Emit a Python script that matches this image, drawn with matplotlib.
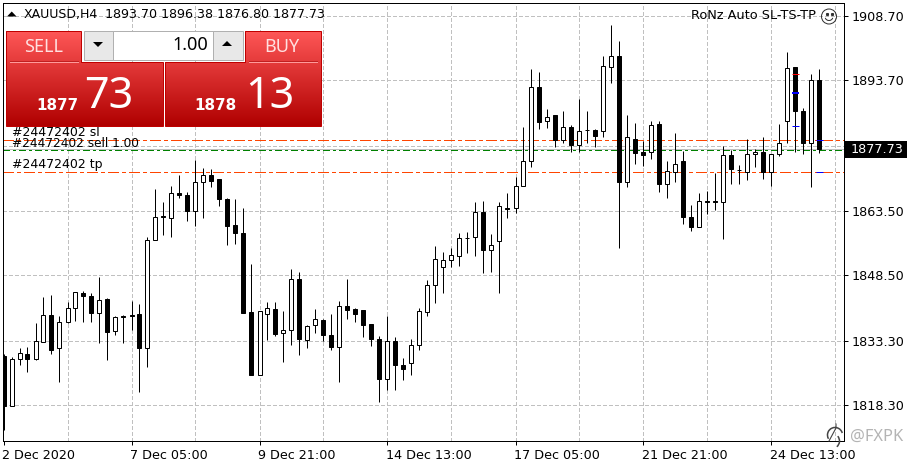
import numpy as np
import matplotlib
matplotlib.use("Agg")
import matplotlib.pyplot as plt
import matplotlib.transforms as mtrans
from matplotlib.patches import Rectangle, Polygon, Circle, Arc

# ---- data (prices) ----
opens = [1829.6,1818.2,1829.0,1830.2,1829.1,1832.9,1839.2,1831.5,1837.5,1840.8,
         1844.3,1843.7,1839.6,1843.0,1835.4,1839.1,1839.2,1839.5,1831.5,1856.6,
         1862.3,1861.7,1867.6,1867.1,1863.3,1870.1,1871.7,1870.8,1866.2,1860.1,
         1858.3,1839.9,1825.2,1839.5,1840.6,1835.0,1835.7,1847.6,1833.4,1836.9,
         1838.1,1834.6,1831.9,1841.3,1840.6,1840.4,1837.1,1833.6,1824.3,1833.2,
         1827.6,1828.1,1832.2,1839.9,1846.2,1850.4,1852.0,1852.9,1857.1,1857.3,
         1863.1,1854.3,1856.4,1864.1,1864.1,1869.1,1874.9,1892.3,1884.2,1885.6,
         1879.9,1882.9,1878.8,1882.1,1882.1,1882.0,1896.9,1899.5,1870.2,1880.2,
         1877.1,1877.0,1883.5,1869.7,1872.5,1875.0,1862.1,1859.7,1865.7,1865.7,
         1865.5,1876.5,1873.0,1872.5,1876.7,1877.0,1872.5,1876.7,1884.4,1896.8,
         1886.7,1879.1,1893.70]
highs = [1830.2,1829.5,1831.5,1831.8,1837.4,1843.5,1843.9,1839.1,1842.2,1844.6,
         1844.9,1844.3,1848.1,1843.2,1839.0,1839.2,1842.5,1841.8,1857.4,1868.6,
         1865.5,1869.3,1871.8,1867.8,1875.3,1873.4,1873.1,1870.8,1866.4,1866.2,
         1864.1,1851.1,1840.1,1842.2,1842.2,1840.2,1850.0,1849.2,1836.9,1840.7,
         1838.4,1839.5,1842.5,1847.7,1840.8,1840.4,1837.1,1834.3,1839.1,1834.1,
         1829.2,1833.6,1840.8,1847.3,1855.2,1853.9,1854.8,1858.3,1858.5,1865.5,
         1865.7,1858.0,1865.5,1867.6,1871.3,1883.0,1896.3,1895.6,1887.0,1885.8,
         1886.7,1883.3,1889.5,1886.5,1882.4,1899.3,1906.7,1902.8,1885.6,1883.9,
         1879.7,1884.2,1884.2,1875.0,1881.5,1877.3,1864.7,1867.5,1868.1,1872.3,
         1878.4,1877.5,1874.0,1880.0,1877.7,1880.5,1876.7,1883.6,1900.3,1896.8,
         1887.4,1895.2,1896.38]
lows = [1812.6,1818.2,1827.5,1826.0,1828.8,1832.9,1830.2,1823.6,1837.4,1837.9,
        1837.7,1837.7,1832.8,1828.8,1834.6,1832.8,1835.8,1821.4,1827.2,1856.6,
        1857.9,1857.4,1866.5,1861.1,1859.9,1861.8,1869.0,1864.6,1855.6,1855.8,
        1839.6,1825.2,1825.2,1833.5,1834.4,1828.4,1832.3,1830.0,1831.6,1835.1,
        1833.3,1831.2,1823.7,1838.4,1837.7,1834.2,1832.1,1818.9,1821.9,1821.9,
        1824.2,1825.4,1831.2,1839.1,1842.1,1844.4,1850.4,1850.7,1853.7,1853.0,
        1849.0,1849.3,1844.4,1861.8,1862.9,1869.1,1873.6,1882.5,1882.6,1878.3,
        1879.1,1877.1,1877.1,1879.2,1878.3,1880.5,1893.2,1854.8,1869.0,1874.3,
        1873.8,1875.5,1867.8,1866.4,1870.2,1860.3,1858.8,1859.7,1862.6,1863.6,
        1856.9,1869.6,1869.6,1870.5,1873.6,1870.8,1869.2,1876.1,1879.1,1877.1,
        1876.7,1868.9,1876.80]
closes = [1818.2,1829.0,1830.4,1829.1,1833.2,1839.2,1831.2,1837.6,1840.8,1844.6,
          1843.6,1839.6,1842.7,1835.2,1838.8,1838.8,1838.9,1831.5,1856.6,1862.0,
          1861.9,1867.6,1867.0,1863.3,1870.1,1871.7,1870.3,1866.1,1860.0,1858.2,
          1839.6,1825.2,1840.1,1840.8,1834.7,1835.7,1847.6,1833.6,1836.7,1838.3,
          1834.5,1831.9,1841.3,1840.5,1839.4,1837.0,1833.6,1824.3,1833.2,1827.5,
          1826.6,1832.2,1840.1,1846.2,1852.2,1851.9,1853.1,1857.0,1857.1,1863.1,
          1854.3,1855.4,1864.5,1863.8,1869.2,1874.9,1892.3,1884.1,1885.3,1879.8,
          1882.8,1878.7,1881.9,1882.1,1880.9,1897.0,1899.5,1870.2,1880.5,1876.9,
          1876.4,1883.3,1869.7,1872.6,1874.2,1862.0,1859.7,1865.6,1865.4,1865.4,
          1876.5,1873.2,1873.0,1876.7,1877.2,1872.4,1876.7,1879.1,1896.7,1886.7,
          1879.2,1893.7,1877.73]

price_ticks = [1908.70, 1893.70, 1878.60, 1863.50, 1848.50, 1833.30, 1818.30]
price_labels = ["1908.70", "1893.70", "", "1863.50", "1848.50", "1833.30", "1818.30"]
time_pos = [0, 16, 32, 48, 64, 80, 96]
time_labels = ["2 Dec 2020", "7 Dec 05:00", "9 Dec 21:00", "14 Dec 13:00",
               "17 Dec 05:00", "21 Dec 21:00", "24 Dec 13:00"]
grid_pos = list(range(8, 105, 8))

sl_level, tp_level, entry_level, bid_level = 1879.8, 1872.55, 1877.45, 1877.75
order_bar = [99, 99, 99, 102, 102]
order_price = [1895.1, 1890.8, 1883.2, 1879.8, 1872.5]
order_color = ["#ff0000", "#0000ff", "#0000ff", "#0000ff", "#0000ff"]
order_lw = [1, 2, 1, 1, 1]

plt.rcParams["font.family"] = "DejaVu Sans"
TXT = 9.2
PX = 0.72
W, H = 915, 467
fig = plt.figure(figsize=(W / 100, H / 100), dpi=100, facecolor="white")

# ---- chart axes ----
L, R, T, B = 2.5, 843.5, 2.5, 440.5
ax = fig.add_axes([L / W, 1 - B / H, (R - L) / W, (B - T) / H])
bar_px = 8.0
ax.set_xlim((L - 3.5) / bar_px, (R - 3.5) / bar_px)
scale = 30.2 / 130
ax.set_ylim(1893.7 - (B - 80.5) * scale, 1893.7 - (T - 80.5) * scale)
for s in ax.spines.values():
    s.set_linewidth(PX)
    s.set_color("black")
    s.set_zorder(6)

grid_style = dict(color="#c0c0c0", lw=PX, dashes=(3.5, 2.5), zorder=0, antialiased=False)
for p in price_ticks:
    ax.axhline(p, **grid_style)
for g in grid_pos:
    ax.axvline(g, **grid_style)

ax.yaxis.tick_right()
ax.set_yticks(price_ticks)
ax.set_yticklabels(price_labels, fontsize=TXT)
ax.tick_params(axis="y", length=3, width=PX, pad=2.5, color="black")
ax.set_xticks(time_pos)
ax.set_xticklabels(time_labels, fontsize=TXT, ha="left")
ax.tick_params(axis="x", length=3, width=PX, pad=3, color="black")
off = mtrans.ScaledTranslation(-1 / 100, 0, fig.dpi_scale_trans)
for t in ax.get_xticklabels():
    t.set_transform(t.get_transform() + off)

# price / order lines
def level(y, color, pattern, z=1):
    ax.axhline(y, color=color, lw=1.1 * PX, dashes=pattern, zorder=z, antialiased=False)
level(sl_level, "#ff4500", (9.5, 3.5, 3.0, 3.5))
level(tp_level, "#ff4500", (9.5, 3.5, 3.0, 3.5))
level(entry_level, "#008000", (6, 3.0, 2, 3.0))
ax.axhline(bid_level, color="#c0c0c0", lw=PX, zorder=1, antialiased=False)

# candles
x = np.arange(len(opens))
o, h, l, c = map(np.array, (opens, highs, lows, closes))
up = c >= o
ax.vlines(x, l, h, color="black", lw=PX, zorder=3)
ax.bar(x[up], (c - o)[up], bottom=o[up], width=0.5, facecolor="white",
       edgecolor="black", lw=PX, zorder=4)
ax.bar(x[~up], (c - o)[~up], bottom=o[~up], width=0.5, facecolor="black",
       edgecolor="black", lw=PX, zorder=4)
for b, p, col, lw in zip(order_bar, order_price, order_color, order_lw):
    ax.hlines(p, b - 0.42, b + 0.42, color=col, lw=lw * PX, zorder=5)

# ---- overlay in pixel coordinates (trading panel, labels) ----
ov = fig.add_axes([0, 0, 1, 1], zorder=10)
ov.patch.set_alpha(0)
ov.axis("off")

def label(xp, yp, s, size=TXT, color="black", ha="left", va="center", **kw):
    ov.text(xp, yp, s, fontsize=size, color=color, ha=ha, va=va, **kw)

label(24, 14.5, "XAUUSD,H4", size=9.0)
label(105, 14.5, "1893.70 1896.38 1876.80 1877.73", size=9.1)
ov.add_patch(Polygon([[7, 16.5], [16.5, 16.5], [11.75, 11.5]], fc="black", ec="none"))
label(816, 15.5, "RoNz Auto SL-TS-TP", size=9.3, ha="right")
ov.add_patch(Circle((829, 16.5), 7.5, fc="none", ec="#303030", lw=PX))
ov.add_patch(Arc((829, 16.5), 8, 8, theta1=20, theta2=160, ec="#303030", lw=PX))
ov.plot([826.5, 831.5], [14, 14], ls="none", marker="s", ms=1.2, color="#303030")

label(12, 132.5, "#24472402 sl", size=9.0)
label(12, 143.5, "#24472402 sell 1.00", size=8.75)
label(12, 164.5, "#24472402 tp", size=9.0)

# price box
ov.add_patch(Rectangle((845, 141), 62, 17, fc="black", ec="none"))
label(851, 149.5, "1877.73", color="white")

# gradient panels
grad = np.array([[1.00, 0.345, 0.345], [0.69, 0.0, 0.0]])
t = np.linspace(0, 1, 96)[:, None]
img = (grad[0] * (1 - t) + grad[1] * t)[:, None, :]
def panel(poly, z=2):
    patch = Polygon(poly, fc="none", ec="none", transform=ov.transData)
    ov.add_patch(patch)
    im = ov.imshow(img, extent=(0, 330, 126, 30), aspect="auto", zorder=z, interpolation="bilinear")
    im.set_clip_path(patch)
    ov.add_patch(Polygon(poly, fc="none", ec="#c00000", lw=PX, zorder=z + 1))
panel([[6, 30.5], [81, 30.5], [81, 62], [162.5, 62], [162.5, 126], [6, 126]])
panel([[245, 30.5], [320.5, 30.5], [320.5, 126], [165, 126], [165, 62], [245, 62]])
ov.set_xlim(0, W)
ov.set_ylim(H, 0)
for a, b_ in [(10, 78), (249, 317)]:
    ov.plot([a, b_], [61.5, 61.5], color="#ff9a9a", lw=PX, zorder=4)
    ov.plot([a, b_], [60.5, 60.5], color="#c02020", lw=PX, zorder=4)

for xa, wd, fc in [(84, 29, "#e8e8e8"), (113, 100, "white"), (213, 29.5, "#e8e8e8")]:
    ov.add_patch(Rectangle((xa, 30.5), wd, 29.5, fc=fc, ec="#b0b0b0", lw=PX, zorder=3))
ov.add_patch(Polygon([[93, 42], [103, 42], [98, 47]], fc="black", ec="none", zorder=4))
ov.add_patch(Polygon([[222, 46], [232, 46], [227, 41]], fc="black", ec="none", zorder=4))

N = "Noto Sans"
label(43.5, 47, "SELL", 13, "#ffe0e0", ha="center", zorder=5, family=N)
label(282, 47, "BUY", 13, "#ffe0e0", ha="center", zorder=5, family=N)
label(208, 45.5, "1.00", 13, "black", ha="right", zorder=5, family=N)
label(78, 105, "1877", 10.9, "white", ha="right", fontweight="bold", zorder=5)
label(237, 105, "1878", 10.9, "white", ha="right", fontweight="bold", zorder=5)
label(84, 97.5, "73", 31, "white", zorder=5, family=N)
label(245, 97.5, "13", 31, "white", zorder=5, family=N)

# watermark
ov.add_patch(Arc((835, 435), 15, 15, theta1=150, theta2=345, ec="#444444", lw=1.1, zorder=6))
ov.add_patch(Arc((832, 441), 15, 15, theta1=-40, theta2=50, ec="#444444", lw=1.1, zorder=6))
ov.plot([836, 836, 829], [424, 428, 441], color="#444444", lw=0.8, zorder=6)
label(850, 436.5, "@FXPK", 11.8, "#b4b4b4", zorder=6, family=N)

fig.savefig("out.png", dpi=100, facecolor="white")
